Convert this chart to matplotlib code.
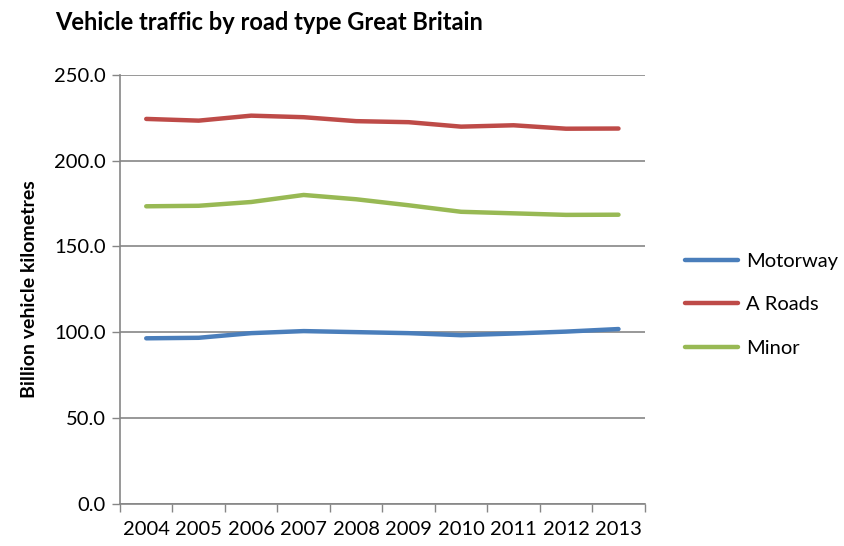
import matplotlib
matplotlib.use("Agg")
import matplotlib.pyplot as plt
import numpy as np

years = ["2004", "2005", "2006", "2007", "2008", "2009", "2010", "2011", "2012", "2013"]
motorway = [96.5, 96.8, 99.5, 100.7, 100.1, 99.5, 98.3, 99.3, 100.4, 101.9]
a_roads = [224.3, 223.3, 226.2, 225.3, 223.0, 222.4, 219.8, 220.6, 218.6, 218.7]
minor = [173.4, 173.7, 175.9, 180.0, 177.5, 174.0, 170.2, 169.3, 168.4, 168.5]

plt.rcParams['font.family'] = ['Lato', 'DejaVu Sans']

fig = plt.figure(figsize=(8.45, 5.46), dpi=100)
ax = fig.add_axes([0.142, 0.077, 0.621, 0.786])

x = np.arange(len(years))
ax.plot(x, motorway, color='#4A7EBB', lw=3.2, label='Motorway', solid_capstyle='round')
ax.plot(x, a_roads, color='#BE4B48', lw=3.2, label='A Roads', solid_capstyle='round')
ax.plot(x, minor, color='#98B954', lw=3.2, label='Minor', solid_capstyle='round')

ax.set_xlim(-0.5, len(years) - 0.5)
ax.set_ylim(0, 250)
ax.set_yticks(np.arange(0, 251, 50))
ax.set_yticklabels([f"{v:.1f}" for v in np.arange(0, 251, 50)], fontsize=14.5)
ax.set_xticks(x)
ax.set_xticklabels(years, fontsize=14.5)
ax.set_xticks(np.arange(-0.5, len(years), 1), minor=True)
ax.tick_params(axis='x', which='major', length=0, pad=12)
ax.tick_params(axis='x', which='minor', length=6, color='#868686', width=1)
ax.tick_params(axis='y', length=6, color='#868686', width=1, pad=4)

ax.grid(axis='y', color='#868686', lw=1.2)
ax.set_axisbelow(True)
for s in ['top', 'right']:
    ax.spines[s].set_visible(False)
for s in ['left', 'bottom']:
    ax.spines[s].set_color('#868686')
    ax.spines[s].set_linewidth(1.2)

ax.set_ylabel("Billion vehicle kilometres", fontsize=14, fontweight='bold', labelpad=12)
fig.text(0.065, 0.958, "Vehicle traffic by road type Great Britain", fontsize=17,
         fontweight='bold', va='center')

ax.legend(loc='center left', bbox_to_anchor=(1.062, 0.464), frameon=False, fontsize=14.5,
          handlelength=2.6, labelspacing=1.3, handletextpad=0.4, borderaxespad=0)

fig.savefig("out.png", dpi=100)
